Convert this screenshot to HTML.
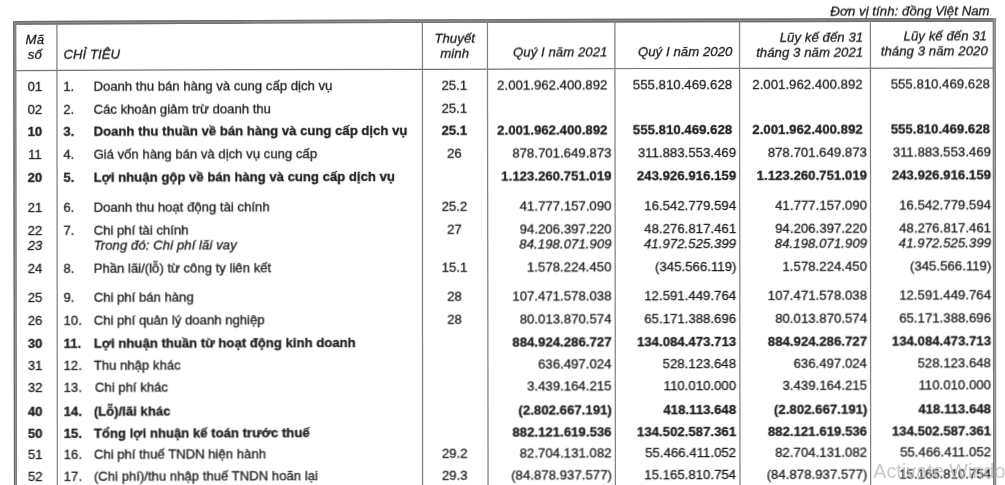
<!DOCTYPE html>
<html lang="vi">
<head>
<meta charset="utf-8">
<title>Báo cáo kết quả hoạt động kinh doanh</title>
<style>
html,body{margin:0;padding:0;background:#fff;}
body{width:1005px;height:485px;overflow:hidden;position:relative;font-family:"Liberation Sans",sans-serif;}
#sheet{position:absolute;left:0;top:0;width:1100px;height:600px;transform-origin:0 0;transform:matrix(1,-0.00275,0.001,1,0,0);filter:blur(0.35px);}
.t{position:absolute;top:0;white-space:nowrap;font-size:13.15px;line-height:16px;color:#1c1c1c;-webkit-text-stroke:0.3px #1c1c1c;}
.b{font-weight:bold;}
.n{letter-spacing:0.04px;}
.i{font-style:italic;letter-spacing:0.07px;}
#rules{position:absolute;left:0;top:0;}
#wm{position:absolute;left:873.3px;top:457.6px;font-size:19.6px;line-height:26px;color:rgba(185,185,185,0.78);white-space:nowrap;letter-spacing:0.1px;}
</style>
</head>
<body>
<svg id="rules" width="1005" height="485" viewBox="0 0 1005 485">
<polyline points="13.20,22.90 240.00,21.85 470.00,20.95 730.00,20.40 996.10,19.90" stroke="#8d8d8d" stroke-width="3.6" fill="none"/>
<polyline points="13.20,21.65 240.00,20.60 470.00,19.70 730.00,19.15 996.10,18.65" stroke="#6c6c6c" stroke-width="1.1" fill="none"/>
<polyline points="13.20,24.15 240.00,23.10 470.00,22.20 730.00,21.65 996.10,21.15" stroke="#6c6c6c" stroke-width="1.1" fill="none"/>
<polyline points="14.00,70.70 240.00,69.55 440.00,69.25 650.00,68.50 994.00,68.15" stroke="#727272" stroke-width="1.25" fill="none"/>
<line x1="14.65" y1="21.20" x2="15.45" y2="490" stroke="#9a9a9a" stroke-width="2.9"/>
<line x1="13.75" y1="21.20" x2="14.55" y2="490" stroke="#666" stroke-width="1.2"/>
<line x1="15.75" y1="21.20" x2="16.55" y2="490" stroke="#7c7c7c" stroke-width="1.0"/>
<line x1="994.3" y1="18.20" x2="994.6" y2="490" stroke="#a0a0a0" stroke-width="3.1"/>
<line x1="993.3" y1="18.20" x2="993.6" y2="490" stroke="#7a7a7a" stroke-width="1.1"/>
<line x1="995.4" y1="18.20" x2="995.7" y2="490" stroke="#858585" stroke-width="1.0"/>
<line x1="56.9" y1="23.70" x2="57.35" y2="490" stroke="#828282" stroke-width="1.25"/>
<line x1="422.4" y1="22.14" x2="422.6" y2="490" stroke="#828282" stroke-width="1.25"/>
<line x1="487.4" y1="21.91" x2="488.1" y2="490" stroke="#828282" stroke-width="1.25"/>
<line x1="614.9" y1="21.64" x2="615.4" y2="490" stroke="#828282" stroke-width="1.25"/>
<line x1="739.55" y1="21.38" x2="740.0" y2="490" stroke="#828282" stroke-width="1.25"/>
<line x1="870.4" y1="21.14" x2="870.65" y2="490" stroke="#828282" stroke-width="1.25"/>
</svg>
<div id="sheet">
<span class="t i" style="transform:translateY(5.80px);right:110.4px">Đơn vị tính: đồng Việt Nam</span>
<span class="t i" style="transform:translateY(31.60px);left:-65.2px;width:200px;text-align:center">Mã</span>
<span class="t i" style="transform:translateY(46.80px);left:-65.2px;width:200px;text-align:center">số</span>
<span class="t i" style="transform:translateY(46.60px);left:63.4px">CHỈ TIÊU</span>
<span class="t i" style="transform:translateY(31.60px);left:354.7px;width:200px;text-align:center">Thuyết</span>
<span class="t i" style="transform:translateY(46.60px);left:354.7px;width:200px;text-align:center">minh</span>
<span class="t i" style="transform:translateY(46.20px);right:492.5px">Quý I năm 2021</span>
<span class="t i" style="transform:translateY(46.40px);right:367.6px">Quý I năm 2020</span>
<span class="t i" style="transform:translateY(31.70px);right:236.8px">Lũy kế đến 31</span>
<span class="t i" style="transform:translateY(46.80px);right:236.8px">tháng 3 năm 2021</span>
<span class="t i" style="transform:translateY(31.20px);right:113.0px">Lũy kế đến 31</span>
<span class="t i" style="transform:translateY(46.40px);right:112.2px">tháng 3 năm 2020</span>
<span class="t " style="transform:translateY(79.30px);left:-65.2px;width:200px;text-align:center">01</span>
<span class="t " style="transform:translateY(79.30px);left:63.3px">1.</span>
<span class="t " style="transform:translateY(79.30px);left:93.4px">Doanh thu bán hàng và cung cấp dịch vụ</span>
<span class="t " style="transform:translateY(79.30px);left:354.2px;width:200px;text-align:center">25.1</span>
<span class="t  n" style="transform:translateY(79.30px);right:492.6px">2.001.962.400.892</span>
<span class="t  n" style="transform:translateY(79.30px);right:367.9px">555.810.469.628</span>
<span class="t  n" style="transform:translateY(79.30px);right:237.4px">2.001.962.400.892</span>
<span class="t  n" style="transform:translateY(79.30px);right:110.1px">555.810.469.628</span>
<span class="t " style="transform:translateY(102.00px);left:-65.2px;width:200px;text-align:center">02</span>
<span class="t " style="transform:translateY(102.00px);left:63.3px">2.</span>
<span class="t " style="transform:translateY(102.00px);left:93.4px">Các khoản giảm trừ doanh thu</span>
<span class="t " style="transform:translateY(102.00px);left:354.2px;width:200px;text-align:center">25.1</span>
<span class="t b" style="transform:translateY(124.45px);left:-65.2px;width:200px;text-align:center">10</span>
<span class="t b" style="transform:translateY(124.45px);left:63.3px">3.</span>
<span class="t b" style="transform:translateY(124.45px);left:93.4px">Doanh thu thuần về bán hàng và cung cấp dịch vụ</span>
<span class="t b" style="transform:translateY(124.45px);left:354.2px;width:200px;text-align:center">25.1</span>
<span class="t b n" style="transform:translateY(124.45px);right:492.6px">2.001.962.400.892</span>
<span class="t b n" style="transform:translateY(124.45px);right:367.9px">555.810.469.628</span>
<span class="t b n" style="transform:translateY(124.45px);right:237.4px">2.001.962.400.892</span>
<span class="t b n" style="transform:translateY(124.45px);right:110.1px">555.810.469.628</span>
<span class="t " style="transform:translateY(147.20px);left:-65.2px;width:200px;text-align:center">11</span>
<span class="t " style="transform:translateY(147.20px);left:63.3px">4.</span>
<span class="t " style="transform:translateY(147.20px);left:93.4px">Giá vốn hàng bán và dịch vụ cung cấp</span>
<span class="t " style="transform:translateY(147.20px);left:354.2px;width:200px;text-align:center">26</span>
<span class="t  n" style="transform:translateY(147.20px);right:488.6px">878.701.649.873</span>
<span class="t  n" style="transform:translateY(147.20px);right:364.0px">311.883.553.469</span>
<span class="t  n" style="transform:translateY(147.20px);right:233.1px">878.701.649.873</span>
<span class="t  n" style="transform:translateY(147.20px);right:109.1px">311.883.553.469</span>
<span class="t b" style="transform:translateY(170.00px);left:-65.2px;width:200px;text-align:center">20</span>
<span class="t b" style="transform:translateY(170.00px);left:63.3px">5.</span>
<span class="t b" style="transform:translateY(170.00px);left:93.4px">Lợi nhuận gộp về bán hàng và cung cấp dịch vụ</span>
<span class="t b n" style="transform:translateY(170.00px);right:488.6px">1.123.260.751.019</span>
<span class="t b n" style="transform:translateY(170.00px);right:364.0px">243.926.916.159</span>
<span class="t b n" style="transform:translateY(170.00px);right:233.1px">1.123.260.751.019</span>
<span class="t b n" style="transform:translateY(170.00px);right:109.1px">243.926.916.159</span>
<span class="t " style="transform:translateY(200.10px);left:-65.2px;width:200px;text-align:center">21</span>
<span class="t " style="transform:translateY(200.10px);left:63.3px">6.</span>
<span class="t " style="transform:translateY(200.10px);left:93.4px">Doanh thu hoạt động tài chính</span>
<span class="t " style="transform:translateY(200.10px);left:354.2px;width:200px;text-align:center">25.2</span>
<span class="t  n" style="transform:translateY(200.10px);right:488.6px">41.777.157.090</span>
<span class="t  n" style="transform:translateY(200.10px);right:364.0px">16.542.779.594</span>
<span class="t  n" style="transform:translateY(200.10px);right:233.1px">41.777.157.090</span>
<span class="t  n" style="transform:translateY(200.10px);right:109.1px">16.542.779.594</span>
<span class="t " style="transform:translateY(222.75px);left:-65.2px;width:200px;text-align:center">22</span>
<span class="t " style="transform:translateY(222.75px);left:63.3px">7.</span>
<span class="t " style="transform:translateY(222.75px);left:93.4px">Chi phí tài chính</span>
<span class="t " style="transform:translateY(222.75px);left:354.2px;width:200px;text-align:center">27</span>
<span class="t  n" style="transform:translateY(222.75px);right:488.6px">94.206.397.220</span>
<span class="t  n" style="transform:translateY(222.75px);right:364.0px">48.276.817.461</span>
<span class="t  n" style="transform:translateY(222.75px);right:233.1px">94.206.397.220</span>
<span class="t  n" style="transform:translateY(222.75px);right:109.1px">48.276.817.461</span>
<span class="t i" style="transform:translateY(237.70px);left:-65.2px;width:200px;text-align:center">23</span>
<span class="t i" style="transform:translateY(237.70px);left:93.4px">Trong đó: Chi phí lãi vay</span>
<span class="t i n" style="transform:translateY(237.70px);right:488.6px">84.198.071.909</span>
<span class="t i n" style="transform:translateY(237.70px);right:364.0px">41.972.525.399</span>
<span class="t i n" style="transform:translateY(237.70px);right:233.1px">84.198.071.909</span>
<span class="t i n" style="transform:translateY(237.70px);right:109.1px">41.972.525.399</span>
<span class="t " style="transform:translateY(260.60px);left:-65.2px;width:200px;text-align:center">24</span>
<span class="t " style="transform:translateY(260.60px);left:63.3px">8.</span>
<span class="t " style="transform:translateY(260.60px);left:93.4px">Phần lãi/(lỗ) từ công ty liên kết</span>
<span class="t " style="transform:translateY(260.60px);left:354.2px;width:200px;text-align:center">15.1</span>
<span class="t  n" style="transform:translateY(260.60px);right:488.7px">1.578.224.450</span>
<span class="t  n" style="transform:translateY(260.60px);right:363.8px">(345.566.119)</span>
<span class="t  n" style="transform:translateY(260.60px);right:233.2px">1.578.224.450</span>
<span class="t  n" style="transform:translateY(260.60px);right:108.9px">(345.566.119)</span>
<span class="t " style="transform:translateY(290.10px);left:-65.2px;width:200px;text-align:center">25</span>
<span class="t " style="transform:translateY(290.10px);left:63.3px">9.</span>
<span class="t " style="transform:translateY(290.10px);left:93.4px">Chi phí bán hàng</span>
<span class="t " style="transform:translateY(290.10px);left:354.2px;width:200px;text-align:center">28</span>
<span class="t  n" style="transform:translateY(290.10px);right:488.7px">107.471.578.038</span>
<span class="t  n" style="transform:translateY(290.10px);right:364.1px">12.591.449.764</span>
<span class="t  n" style="transform:translateY(290.10px);right:233.2px">107.471.578.038</span>
<span class="t  n" style="transform:translateY(290.10px);right:109.2px">12.591.449.764</span>
<span class="t " style="transform:translateY(313.10px);left:-65.2px;width:200px;text-align:center">26</span>
<span class="t " style="transform:translateY(313.10px);left:63.3px">10.</span>
<span class="t " style="transform:translateY(313.10px);left:93.4px">Chi phí quản lý doanh nghiệp</span>
<span class="t " style="transform:translateY(313.10px);left:354.2px;width:200px;text-align:center">28</span>
<span class="t  n" style="transform:translateY(313.10px);right:488.7px">80.013.870.574</span>
<span class="t  n" style="transform:translateY(313.10px);right:364.1px">65.171.388.696</span>
<span class="t  n" style="transform:translateY(313.10px);right:233.2px">80.013.870.574</span>
<span class="t  n" style="transform:translateY(313.10px);right:109.2px">65.171.388.696</span>
<span class="t b" style="transform:translateY(335.60px);left:-65.2px;width:200px;text-align:center">30</span>
<span class="t b" style="transform:translateY(335.60px);left:63.3px">11.</span>
<span class="t b" style="transform:translateY(335.60px);left:93.4px">Lợi nhuận thuần từ hoạt động kinh doanh</span>
<span class="t b n" style="transform:translateY(335.60px);right:488.7px">884.924.286.727</span>
<span class="t b n" style="transform:translateY(335.60px);right:364.1px">134.084.473.713</span>
<span class="t b n" style="transform:translateY(335.60px);right:233.2px">884.924.286.727</span>
<span class="t b n" style="transform:translateY(335.60px);right:109.2px">134.084.473.713</span>
<span class="t " style="transform:translateY(358.00px);left:-65.2px;width:200px;text-align:center">31</span>
<span class="t " style="transform:translateY(358.00px);left:63.3px">12.</span>
<span class="t " style="transform:translateY(358.00px);left:93.4px">Thu nhập khác</span>
<span class="t  n" style="transform:translateY(358.00px);right:488.8px">636.497.024</span>
<span class="t  n" style="transform:translateY(358.00px);right:364.2px">528.123.648</span>
<span class="t  n" style="transform:translateY(358.00px);right:233.3px">636.497.024</span>
<span class="t  n" style="transform:translateY(358.00px);right:109.3px">528.123.648</span>
<span class="t " style="transform:translateY(380.45px);left:-65.2px;width:200px;text-align:center">32</span>
<span class="t " style="transform:translateY(380.45px);left:63.3px">13.</span>
<span class="t " style="transform:translateY(380.45px);left:94.6px">Chi phí khác</span>
<span class="t  n" style="transform:translateY(380.45px);right:488.8px">3.439.164.215</span>
<span class="t  n" style="transform:translateY(380.45px);right:364.2px">110.010.000</span>
<span class="t  n" style="transform:translateY(380.45px);right:233.3px">3.439.164.215</span>
<span class="t  n" style="transform:translateY(380.45px);right:109.3px">110.010.000</span>
<span class="t b" style="transform:translateY(403.50px);left:-65.2px;width:200px;text-align:center">40</span>
<span class="t b" style="transform:translateY(403.50px);left:63.3px">14.</span>
<span class="t b" style="transform:translateY(403.50px);left:93.4px">(Lỗ)/lãi khác</span>
<span class="t b n" style="transform:translateY(403.50px);right:488.5px">(2.802.667.191)</span>
<span class="t b n" style="transform:translateY(403.50px);right:364.2px">418.113.648</span>
<span class="t b n" style="transform:translateY(403.50px);right:233.0px">(2.802.667.191)</span>
<span class="t b n" style="transform:translateY(403.50px);right:109.3px">418.113.648</span>
<span class="t b" style="transform:translateY(426.45px);left:-65.2px;width:200px;text-align:center">50</span>
<span class="t b" style="transform:translateY(426.45px);left:63.3px">15.</span>
<span class="t b" style="transform:translateY(426.45px);left:93.4px">Tổng lợi nhuận kế toán trước thuế</span>
<span class="t b n" style="transform:translateY(426.45px);right:488.8px">882.121.619.536</span>
<span class="t b n" style="transform:translateY(426.45px);right:364.2px">134.502.587.361</span>
<span class="t b n" style="transform:translateY(426.45px);right:233.3px">882.121.619.536</span>
<span class="t b n" style="transform:translateY(426.45px);right:109.3px">134.502.587.361</span>
<span class="t " style="transform:translateY(446.60px);left:-65.2px;width:200px;text-align:center">51</span>
<span class="t " style="transform:translateY(446.60px);left:63.3px">16.</span>
<span class="t " style="transform:translateY(446.60px);left:93.4px">Chi phí thuế TNDN hiện hành</span>
<span class="t " style="transform:translateY(446.60px);left:354.2px;width:200px;text-align:center">29.2</span>
<span class="t  n" style="transform:translateY(446.60px);right:488.9px">82.704.131.082</span>
<span class="t  n" style="transform:translateY(446.60px);right:364.3px">55.466.411.052</span>
<span class="t  n" style="transform:translateY(446.60px);right:233.4px">82.704.131.082</span>
<span class="t  n" style="transform:translateY(446.60px);right:109.4px">55.466.411.052</span>
<span class="t " style="transform:translateY(469.20px);left:-65.2px;width:200px;text-align:center">52</span>
<span class="t " style="transform:translateY(469.20px);left:63.3px">17.</span>
<span class="t " style="transform:translateY(469.20px);left:93.4px">(Chi phí)/thu nhập thuế TNDN hoãn lại</span>
<span class="t " style="transform:translateY(469.20px);left:354.2px;width:200px;text-align:center">29.3</span>
<span class="t  n" style="transform:translateY(469.20px);right:488.6px">(84.878.937.577)</span>
<span class="t  n" style="transform:translateY(469.20px);right:364.3px">15.165.810.754</span>
<span class="t  n" style="transform:translateY(469.20px);right:233.1px">(84.878.937.577)</span>
<span class="t  n" style="transform:translateY(469.20px);right:109.4px">15.165.810.754</span>
</div>
<div id="wm">Activate Windows</div>
</body>
</html>
